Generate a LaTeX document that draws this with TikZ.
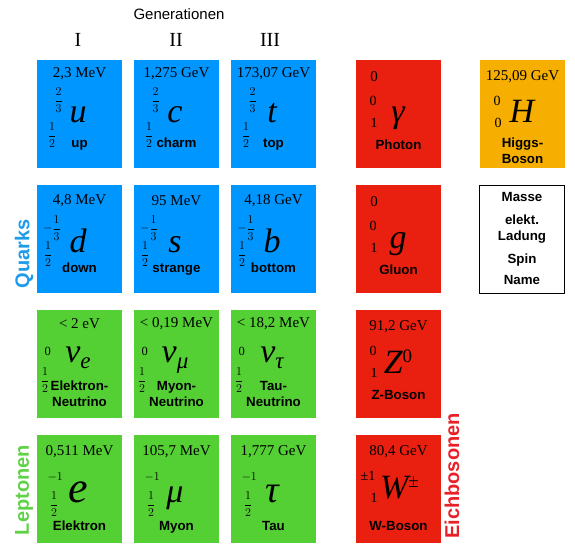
\documentclass[tikz,border=0pt]{standalone}
\usepackage{amsmath}
\usepackage{fontspec}
\setmainfont{Liberation Serif}
\setsansfont{Liberation Sans}

\definecolor{quarkblue}{RGB}{0,150,255}
\definecolor{leptongreen}{RGB}{84,208,52}
\definecolor{bosonred}{RGB}{233,32,16}
\definecolor{higgsorange}{RGB}{246,174,0}
\definecolor{quarktext}{RGB}{30,155,235}
\definecolor{leptontext}{RGB}{95,210,70}
\definecolor{bosontext}{RGB}{232,32,40}

\tikzset{
  cell/.style={anchor=north west, minimum width=85pt, minimum height=108pt, inner sep=0pt, outer sep=0pt},
  mass/.style={font=\fontsize{15}{17}\selectfont, inner sep=0pt},
  sym/.style={font=\fontsize{34}{36}\selectfont\itshape, anchor=base, inner sep=0pt},
  charge/.style={font=\fontsize{12.5}{14}\selectfont, anchor=east, inner sep=0pt},
  spin/.style={font=\fontsize{12.5}{14}\selectfont, inner sep=0pt},
  bcharge/.style={font=\fontsize{14}{16}\selectfont, inner sep=0pt},
  pname/.style={font=\fontsize{13.3}{15.5}\selectfont\sffamily\bfseries, anchor=base, align=center, inner sep=0pt},
  rowlabel/.style={font=\fontsize{20}{22}\selectfont\sffamily\bfseries, rotate=90, inner sep=0pt},
  gen/.style={font=\fontsize{20}{22}\selectfont, inner sep=0pt},
}

\newcommand{\fr}[2]{$\dfrac{#1}{#2}$}
% offsets inside a fermion cell, set once per row (name: baseline of its last line)
\newcommand{\setrow}[7]{\def\massy{#1}\def\chx{#2}\def\chy{#3}\def\symy{#4}\def\spx{#5}\def\spy{#6}\def\namey{#7}}
\newcommand{\fermion}[9][]{%
  \node[cell, fill=#4] (#2) at (#3) {};
  \node[mass] (#2-m) at ([xshift=42.5pt, yshift=-\massy]#2.north west) {#5};
  \node[charge] (#2-q) at ([xshift=\chx, yshift=-\chy]#2.north west) {#6};
  \node[sym, #1] (#2-s) at ([xshift=41pt, yshift=-\symy]#2.north west) {#8};
  \node[spin] (#2-j) at ([xshift=\spx, yshift=-\spy]#2.north west) {#7};
  \node[pname] (#2-n) at ([xshift=42.5pt, yshift=-\namey]#2.north west) {#9};
}
\newcommand{\bnamey}{89pt}
\newcommand{\bchx}{17pt}
\newcommand{\boson}[9][]{%
  \node[cell, fill=#4] (#2) at (#3) {};
  \node[mass, #1] (#2-m) at ([xshift=42.5pt, yshift=-17pt]#2.north west) {#5};
  \node[bcharge] (#2-q) at ([xshift=\bchx, yshift=-41pt]#2.north west) {#6};
  \node[bcharge] (#2-j) at ([xshift=18pt, yshift=-63pt]#2.north west) {#7};
  \node[sym] (#2-s) at ([xshift=42pt, yshift=-63pt]#2.north west) {#8};
  \node[pname] (#2-n) at ([xshift=42.5pt, yshift=-\bnamey]#2.north west) {#9};
}

\begin{document}
\begin{tikzpicture}[x=1pt, y=-1pt]
    \useasboundingbox (0,0) rectangle (575,559);
    % headings
    \node[font=\fontsize{15}{17}\selectfont\sffamily, inner sep=0pt] (generations) at (179,14) {Generationen};
    \node[gen] (gI) at (78,40) {I};
    \node[gen] (gII) at (176,40) {II};
    \node[gen] (gIII) at (270,40) {III};
    \node[rowlabel, text=quarktext] (quarks) at (24,254) {Quarks};
    \node[rowlabel, text=leptontext] (leptons) at (24,490) {Leptonen};
    \node[rowlabel, text=bosontext] (gauge) at (452,476) {Eichbosonen};
    % quarks
    \setrow{14pt}{26pt}{40pt}{62pt}{15pt}{75pt}{87pt}
    \fermion{u}{37,60}{quarkblue}{2,3 MeV}{\fr{2}{3}}{\fr{1}{2}}{u}{up}
    \fermion{c}{134,60}{quarkblue}{1,275 GeV}{\fr{2}{3}}{\fr{1}{2}}{c}{charm}
    \fermion{t}{231,60}{quarkblue}{173,07 GeV}{\fr{2}{3}}{\fr{1}{2}}{t}{top}
    \setrow{16pt}{24pt}{43pt}{67pt}{11pt}{69pt}{87pt}
    \fermion{d}{37,185}{quarkblue}{4,8 MeV}{$-\dfrac{1}{3}$}{\fr{1}{2}}{d}{down}
    \fermion{s}{134,185}{quarkblue}{95 MeV}{$-\dfrac{1}{3}$}{\fr{1}{2}}{s}{strange}
    \fermion{b}{231,185}{quarkblue}{4,18 GeV}{$-\dfrac{1}{3}$}{\fr{1}{2}}{b}{bottom}
    % leptons
    \setrow{14pt}{14pt}{41pt}{52pt}{8pt}{70pt}{96pt}
    \fermion{nue}{37,310}{leptongreen}{< 2 eV}{0}{\fr{1}{2}}{ν\raisebox{-6pt}{\fontsize{23}{23}\selectfont e}}{Elektron-\\Neutrino}
    \fermion{num}{134,310}{leptongreen}{< 0,19 MeV}{0}{\fr{1}{2}}{ν\raisebox{-6pt}{\fontsize{23}{23}\selectfont μ}}{Myon-\\Neutrino}
    \fermion{nut}{231,310}{leptongreen}{< 18,2 MeV}{0}{\fr{1}{2}}{ν\raisebox{-6pt}{\fontsize{23}{23}\selectfont τ}}{Tau-\\Neutrino}
    \setrow{17pt}{26pt}{42pt}{67pt}{17pt}{69pt}{95pt}
    \fermion[font=\fontsize{44}{46}\selectfont\itshape]{e}{37,435}{leptongreen}{0,511 MeV}{$-1$}{\fr{1}{2}}{e}{Elektron}
    \fermion{mu}{134,435}{leptongreen}{105,7 MeV}{$-1$}{\fr{1}{2}}{μ}{Myon}
    \fermion[font=\fontsize{38}{40}\selectfont\itshape]{tau}{231,435}{leptongreen}{1,777 GeV}{$-1$}{\fr{1}{2}}{τ}{Tau}
    % bosons
    \boson[xshift=-24.5pt]{ga}{356,60}{bosonred}{0}{0}{1}{γ}{Photon}
    \boson[xshift=-24.5pt]{g}{356,185}{bosonred}{0}{0}{1}{g}{Gluon}
    \boson{Z}{356,310}{bosonred}{91,2 GeV}{0}{1}{Z\raisebox{11pt}{\fontsize{19}{19}\selectfont\upshape 0}}{Z-Boson}
    \renewcommand{\bnamey}{95pt}\renewcommand{\bchx}{12pt}
    \boson{W}{356,435}{bosonred}{80,4 GeV}{±1}{1}{\hspace{3pt}W\raisebox{11pt}{\fontsize{19}{19}\selectfont\upshape ±}}{W-Boson}
    \renewcommand{\bnamey}{103pt}\renewcommand{\bchx}{17pt}
    \boson{H}{480,60}{higgsorange}{125,09 GeV}{0}{0}{H}{Higgs-\\Boson}
    % legend
    \node[cell, draw=black, fill=white, line width=0.8pt] (legend) at (479,185) {};
    \node[pname, anchor=center] (l-mass) at (522,197) {Masse};
    \node[pname, anchor=center] (l-charge) at (522,229) {elekt.\\Ladung};
    \node[pname, anchor=center] (l-spin) at (522,260) {Spin};
    \node[pname, anchor=center] (l-name) at (522,280) {Name};
\end{tikzpicture}
\end{document}
